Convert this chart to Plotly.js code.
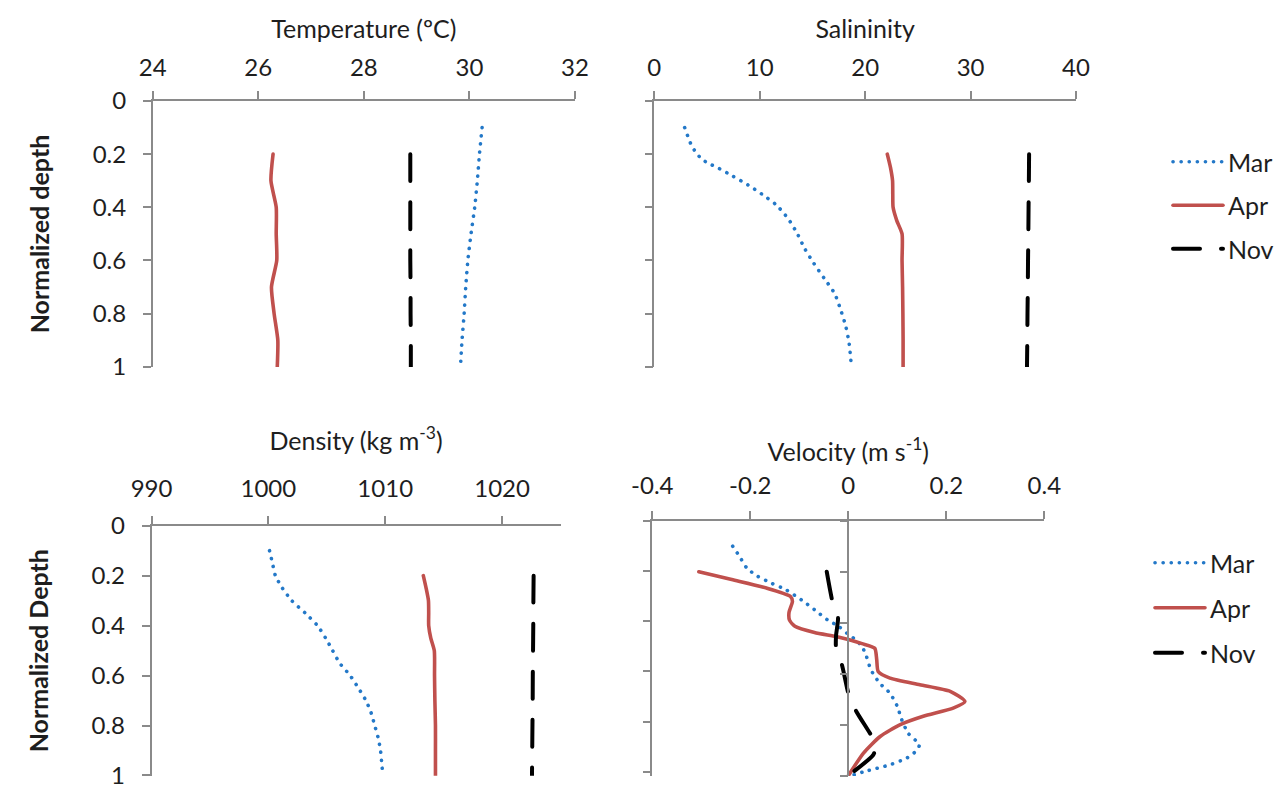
<!DOCTYPE html>
<html>
<head>
<meta charset="utf-8">
<script src="https://cdn.plot.ly/plotly-3.0.1.min.js"></script>
<style>
html,body{margin:0;padding:0;background:#fff;}
#chart{width:1284px;height:785px;}
.js-line{stroke-linecap:round;stroke-linejoin:round;}
</style>
</head>
<body>
<div id="chart"></div>
<script>
// ---------------- DATA ----------------
const months = ['Mar', 'Apr', 'Nov'];

// Temperature (ºC)
const tempMarDepth = [0.1, 0.2, 0.3, 0.4, 0.5, 0.6, 0.7, 0.8, 0.9, 1.0];
const tempMar      = [30.24, 30.19, 30.15, 30.1, 30.03, 29.97, 29.93, 29.9, 29.86, 29.83];
const tempAprDepth = [0.2, 0.3, 0.4, 0.5, 0.6, 0.7, 0.8, 0.9, 1.0];
const tempApr      = [26.28, 26.24, 26.34, 26.34, 26.35, 26.25, 26.3, 26.37, 26.36];
const tempNovDepth = [0.2, 0.3, 0.4, 0.5, 0.6, 0.7, 0.8, 0.9, 1.0];
const tempNov      = [28.88, 28.88, 28.88, 28.88, 28.88, 28.885, 28.885, 28.89, 28.89];

// Salinity
const salMarDepth = [0.1, 0.163, 0.194, 0.22, 0.237, 0.25, 0.282, 0.316, 0.35, 0.391, 0.442, 0.498, 0.555, 0.611, 0.667, 0.724, 0.787, 0.849, 0.912, 1.0];
const salMar      = [2.88, 3.48, 3.95, 4.54, 5.25, 5.96, 7.42, 8.89, 10.19, 11.57, 12.68, 13.55, 14.26, 15.13, 16.11, 17.1, 17.69, 18.17, 18.48, 18.7];
const salAprDepth = [0.2, 0.25, 0.3, 0.35, 0.4, 0.45, 0.5, 0.6, 0.7, 0.8, 0.9, 1.0];
const salApr      = [22.1, 22.4, 22.6, 22.62, 22.65, 23.0, 23.5, 23.5, 23.55, 23.58, 23.6, 23.6];
const salNovDepth = [0.2, 0.3, 0.4, 0.5, 0.6, 0.7, 0.8, 0.9, 1.0];
const salNov      = [35.55, 35.53, 35.5, 35.48, 35.45, 35.43, 35.4, 35.38, 35.35];

// Density (kg m-3)
const denMarDepth = [0.1, 0.15, 0.2, 0.25, 0.3, 0.35, 0.4, 0.45, 0.5, 0.55, 0.6, 0.65, 0.7, 0.75, 0.8, 0.85, 0.9, 0.95, 1.0];
const denMar      = [1000.1, 1000.35, 1000.6, 1001.2, 1002.0, 1003.16, 1004.2, 1004.9, 1005.5, 1006.1, 1007.0, 1007.7, 1008.35, 1008.8, 1009.1, 1009.4, 1009.6, 1009.7, 1009.8];
const denAprDepth = [0.2, 0.25, 0.3, 0.35, 0.4, 0.45, 0.5, 0.6, 0.7, 0.8, 0.9, 1.0];
const denApr      = [1013.26, 1013.5, 1013.7, 1013.72, 1013.72, 1013.9, 1014.2, 1014.22, 1014.25, 1014.3, 1014.3, 1014.3];
const denNovDepth = [0.2, 0.3, 0.4, 0.5, 0.6, 0.7, 0.8, 0.9, 1.0];
const denNov      = [1022.7, 1022.68, 1022.67, 1022.65, 1022.63, 1022.62, 1022.6, 1022.58, 1022.56];

// Velocity (m s-1)
const velMarDepth = [0.1, 0.14, 0.186, 0.218, 0.244, 0.271, 0.31, 0.349, 0.388, 0.414, 0.441, 0.467, 0.493, 0.532, 0.584, 0.637, 0.676, 0.728, 0.78, 0.833, 0.878, 0.9, 0.93, 0.957, 0.983, 1.0];
const velMar      = [-0.236, -0.222, -0.207, -0.185, -0.158, -0.127, -0.096, -0.069, -0.043, -0.02, -0.003, 0.015, 0.028, 0.037, 0.046, 0.064, 0.085, 0.1, 0.109, 0.122, 0.145, 0.14, 0.12, 0.085, 0.034, 0.005];
const velAprDepth = [0.2, 0.231, 0.264, 0.297, 0.316, 0.36, 0.39, 0.414, 0.438, 0.454, 0.467, 0.482, 0.5, 0.545, 0.591, 0.617, 0.643, 0.669, 0.709, 0.735, 0.767, 0.8, 0.846, 0.911, 1.0];
const velApr      = [-0.305, -0.238, -0.167, -0.118, -0.114, -0.121, -0.12, -0.109, -0.069, -0.025, 0.002, 0.028, 0.054, 0.058, 0.061, 0.085, 0.146, 0.208, 0.238, 0.214, 0.153, 0.106, 0.065, 0.031, 0.0];
const velNovDepth = [0.2, 0.32, 0.38, 0.45, 0.5, 0.565, 0.69, 0.75, 0.856, 0.885, 0.918, 1.0];
const velNov      = [-0.044, -0.032, -0.021, -0.025, -0.025, -0.013, 0.002, 0.017, 0.051, 0.056, 0.051, 0.0];

// Tick labels
const depthTicks = [0, 0.2, 0.4, 0.6, 0.8, 1];
const depthTickText = ['0', '0.2', '0.4', '0.6', '0.8', '1'];
const velTicks = [-0.4, -0.2, 0, 0.2, 0.4];
const velTickText = ['-0.4', '-0.2', '0', '0.2', '0.4'];

// ---------------- STYLE ----------------
const W = 1284, H = 785;
const FONT = 'Lato, "Open Sans", sans-serif';
const TXT = '#1e1e1e';
const AX = '#8a8a8a';
const dx = (a, b) => [a / W, b / W];
const dy = (top, bottom) => [1 - bottom / H, 1 - top / H];

const lineStyle = {
  Mar: {color: '#2378c8', width: 3.6, dash: '0.1px,8px'},
  Apr: {color: '#c0504d', width: 3.6, dash: 'solid'},
  Nov: {color: '#000000', width: 4, dash: '27px,21px'}
};

function tr(x, y, m, xa, ya, legend) {
  const t = {
    x: x, y: y, name: m, type: 'scatter', mode: 'lines',
    xaxis: xa, yaxis: ya,
    line: Object.assign({shape: 'spline', smoothing: 0.6}, lineStyle[m]),
    hoverinfo: 'x+y+name',
    showlegend: !!legend
  };
  if (legend) { t.legend = legend; t.legendgroup = legend + m; }
  return t;
}

const data = [
  tr(tempMar, tempMarDepth, 'Mar', 'x', 'y'),
  tr(tempApr, tempAprDepth, 'Apr', 'x', 'y'),
  tr(tempNov, tempNovDepth, 'Nov', 'x', 'y'),
  tr(salMar, salMarDepth, 'Mar', 'x2', 'y2', 'legend'),
  tr(salApr, salAprDepth, 'Apr', 'x2', 'y2', 'legend'),
  tr(salNov, salNovDepth, 'Nov', 'x2', 'y2', 'legend'),
  tr(denMar, denMarDepth, 'Mar', 'x3', 'y3'),
  tr(denApr, denAprDepth, 'Apr', 'x3', 'y3'),
  tr(denNov, denNovDepth, 'Nov', 'x3', 'y3'),
  tr(velMar, velMarDepth, 'Mar', 'x4', 'y4', 'legend2'),
  tr(velApr, velAprDepth, 'Apr', 'x4', 'y4', 'legend2'),
  tr(velNov, velNovDepth, 'Nov', 'x4', 'y4', 'legend2'),
  {x: [], y: [], xaxis: 'x4', yaxis: 'y5', type: 'scatter', mode: 'lines', showlegend: false, hoverinfo: 'skip'}
];

const base = {
  showline: true, linecolor: AX, linewidth: 1.5,
  ticks: 'outside', ticklen: 8, tickwidth: 1.5, tickcolor: AX,
  showgrid: false, zeroline: false, fixedrange: true,
  ticklabeloverflow: 'allow',
  tickfont: {family: FONT, size: 24, color: TXT}
};
const xTitleFont = {family: FONT, size: 25, color: TXT};
const yTitleFont = {family: FONT, size: 25, color: TXT};

const velDom = dx(652.3, 1044.3);
const velRange = [-0.4, 0.4];
const zeroPos = velDom[0] + (0 - velRange[0]) / (velRange[1] - velRange[0]) * (velDom[1] - velDom[0]);

const layout = {
  width: W, height: H,
  margin: {l: 0, r: 0, t: 0, b: 0},
  paper_bgcolor: '#fff', plot_bgcolor: 'rgba(0,0,0,0)',
  font: {family: FONT, size: 24, color: TXT},
  showlegend: true,
  // Temperature
  xaxis: Object.assign({}, base, {
    domain: dx(152.7, 575), anchor: 'y', side: 'top', range: [24, 32], dtick: 2, tick0: 24,
    ticklabelstandoff: 6,
    title: {text: 'Temperature (ºC)', font: xTitleFont, standoff: 6}
  }),
  yaxis: Object.assign({}, base, {
    domain: dy(101, 367), anchor: 'x', range: [1.001, 0],
    tickvals: depthTicks, ticktext: depthTickText, ticklabelstandoff: 12,
    title: {text: '<b>Normalized depth</b>', font: yTitleFont, standoff: 36}
  }),
  // Salinity
  xaxis2: Object.assign({}, base, {
    domain: dx(654.3, 1076), anchor: 'y2', side: 'top', range: [0, 40], dtick: 10, tick0: 0,
    ticklabelstandoff: 6,
    title: {text: 'Salininity', font: xTitleFont, standoff: 6}
  }),
  yaxis2: Object.assign({}, base, {
    domain: dy(101, 367), anchor: 'x2', range: [1.001, 0],
    tickvals: depthTicks, showticklabels: false
  }),
  // Density
  xaxis3: Object.assign({}, base, {
    domain: dx(151.5, 560.5), anchor: 'y3', side: 'top', range: [990, 1025], dtick: 10, tick0: 990,
    ticklabelstandoff: 9,
    title: {text: 'Density (kg m<sup>-3</sup>)', font: xTitleFont, standoff: 16}
  }),
  yaxis3: Object.assign({}, base, {
    domain: dy(525.7, 775.7), anchor: 'x3', range: [1.001, 0],
    tickvals: depthTicks, ticktext: depthTickText, ticklabelstandoff: 12,
    title: {text: '<b>Normalized Depth</b>', font: yTitleFont, standoff: 36}
  }),
  // Velocity
  xaxis4: Object.assign({}, base, {
    domain: velDom, anchor: 'y4', side: 'top', range: velRange,
    tickvals: velTicks, ticktext: velTickText, ticklabelstandoff: 7,
    title: {text: 'Velocity (m s<sup>-1</sup>)', font: xTitleFont, standoff: 2}
  }),
  yaxis4: Object.assign({}, base, {
    domain: dy(520.7, 776), anchor: 'free', position: zeroPos, range: [1.001, 0],
    tickvals: depthTicks, showticklabels: false
  }),
  yaxis5: Object.assign({}, base, {
    domain: dy(520.7, 776), anchor: 'x4', overlaying: 'y4', side: 'left', range: [1.017, 0],
    tickvals: depthTicks, showticklabels: false
  }),
  legend: {
    x: 1168 / W, y: 1 - 139 / H, xanchor: 'left', yanchor: 'top',
    font: {family: FONT, size: 25, color: TXT}, bgcolor: 'rgba(0,0,0,0)',
    itemwidth: 50, tracegroupgap: 8, traceorder: 'grouped'
  },
  legend2: {
    x: 1150 / W, y: 1 - 540 / H, xanchor: 'left', yanchor: 'top',
    font: {family: FONT, size: 25, color: TXT}, bgcolor: 'rgba(0,0,0,0)',
    itemwidth: 50, tracegroupgap: 9.5, traceorder: 'grouped'
  }
};

Plotly.newPlot('chart', data, layout, {displayModeBar: false, responsive: false});
</script>
</body>
</html>
